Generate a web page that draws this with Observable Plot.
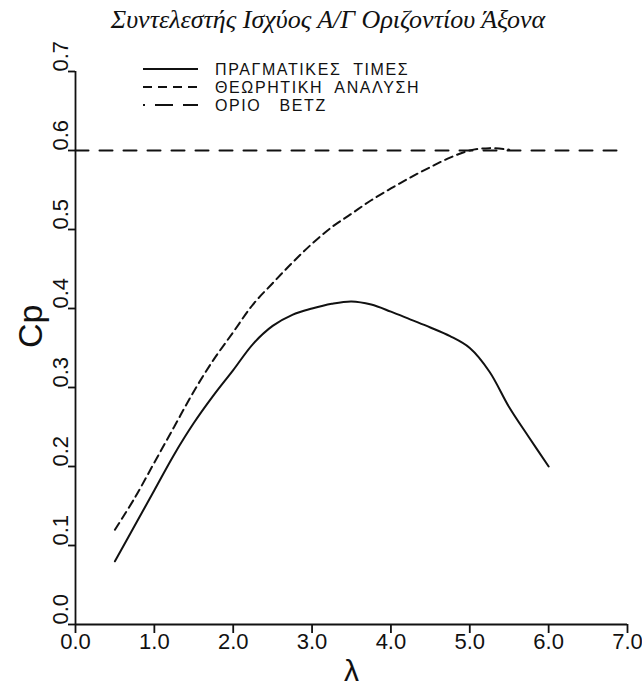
<!DOCTYPE html>
<html><head><meta charset="utf-8">
<script src="https://cdn.jsdelivr.net/npm/d3@7"></script>
<script src="https://cdn.jsdelivr.net/npm/@observablehq/plot@0.6"></script>
<style>
body{margin:0;background:#fff;}
#wrap{position:relative;width:642px;height:688px;overflow:hidden;}
#title{height:40px;line-height:40px;text-align:center;padding-left:14px;font-family:"Liberation Serif",serif;font-style:italic;font-size:26px;color:#111;}
#legend{position:absolute;left:0;top:0;}
#legend text{white-space:pre;}
#chart svg [aria-label*="tick"] path, #chart svg .tick line{stroke-width:1.8px;}
</style></head><body>
<div id="wrap"><div id="title"></div><div id="chart"></div><svg id="legend" width="642" height="130"></svg></div>
<script>
const titleText = "Συντελεστής Ισχύος Α/Γ Οριζοντίου Άξονα";
const xLabel = "λ";
const yLabel = "Cp";
const seriesNames = ["ΠΡΑΓΜΑΤΙΚΕΣ  ΤΙΜΕΣ", "ΘΕΩΡΗΤΙΚΗ  ΑΝΑΛΥΣΗ", "ΟΡΙΟ   ΒΕΤΖ"];

const lambdaReal = [0.5, 0.75, 1.0, 1.25, 1.5, 1.75, 2.0, 2.25, 2.5, 2.75, 3.0, 3.25, 3.5, 3.75, 4.0, 4.25, 4.5, 4.75, 5.0, 5.25, 5.5, 5.75, 6.0];
const cpReal     = [0.08, 0.125, 0.17, 0.215, 0.255, 0.29, 0.322, 0.355, 0.378, 0.392, 0.400, 0.406, 0.409, 0.405, 0.396, 0.386, 0.376, 0.365, 0.35, 0.32, 0.275, 0.237, 0.20];

const lambdaTheory = [0.5, 0.75, 1.0, 1.25, 1.5, 1.75, 2.0, 2.25, 2.5, 2.75, 3.0, 3.25, 3.5, 3.75, 4.0, 4.25, 4.5, 4.75, 5.0, 5.25, 5.5];
const cpTheory     = [0.12, 0.16, 0.205, 0.25, 0.295, 0.335, 0.37, 0.405, 0.432, 0.458, 0.482, 0.503, 0.52, 0.537, 0.552, 0.566, 0.579, 0.591, 0.600, 0.603, 0.601];

const lambdaBetz = [0, 7];
const cpBetz = [0.6, 0.6];

const xTicks = [0, 1, 2, 3, 4, 5, 6, 7];
const yTicks = [0, 0.1, 0.2, 0.3, 0.4, 0.5, 0.6, 0.7];

const real = lambdaReal.map((l, i) => ({l, cp: cpReal[i]}));
const theory = lambdaTheory.map((l, i) => ({l, cp: cpTheory[i]}));
const betz = lambdaBetz.map((l, i) => ({l, cp: cpBetz[i]}));
const fmt = d => d.toFixed(1);

document.getElementById("title").textContent = titleText;

const chart = Plot.plot({
  width: 642, height: 648,
  marginTop: 31, marginBottom: 64, marginLeft: 75, marginRight: 15,
  x: {domain: [0, 7], ticks: xTicks, tickSize: 9, tickFormat: () => "", label: null},
  y: {domain: [0, 0.7], ticks: yTicks, tickSize: 7, tickFormat: () => "", label: null},
  style: {fontFamily: "'Liberation Sans', Arial, sans-serif", color: "#111", background: "white"},
  marks: [
    Plot.ruleY([0], {stroke: "#111", strokeWidth: 1.8}),
    Plot.ruleX([0], {stroke: "#111", strokeWidth: 1.8}),
    Plot.text(xTicks, {x: d => d, frameAnchor: "bottom", dy: 24, text: fmt, fontSize: 22, fill: "#111"}),
    Plot.text(yTicks, {y: d => d, frameAnchor: "left", dx: -15, rotate: -90, text: fmt, fontSize: 22, fill: "#111"}),
    Plot.text([yLabel], {frameAnchor: "left", dx: -44, rotate: -90, text: d => d, fontSize: 34, fill: "#111"}),
    Plot.text([xLabel], {frameAnchor: "bottom", dy: 56, text: d => d, fontSize: 30, fill: "#111"}),
    Plot.line(betz, {x: "l", y: "cp", stroke: "#111", strokeWidth: 2, strokeDasharray: "13,11"}),
    Plot.line(theory, {x: "l", y: "cp", stroke: "#111", strokeWidth: 2, strokeDasharray: "8,5", curve: "catmull-rom"}),
    Plot.line(real, {x: "l", y: "cp", stroke: "#111", strokeWidth: 2, curve: "catmull-rom"})
  ]
});
document.getElementById("chart").appendChild(chart);

// legend
const dashes = [null, "9,6", "2,10,18,10,16"];
const leg = d3.select("#legend");
const rows = leg.selectAll("g").data(seriesNames).join("g")
  .attr("transform", (d, i) => `translate(0,${69 + i * 18})`);
rows.append("line").attr("x1", 143).attr("x2", 198).attr("y1", 0).attr("y2", 0)
  .attr("stroke", "#111").attr("stroke-width", 2)
  .attr("stroke-dasharray", (d, i) => dashes[i]);
rows.append("text").attr("x", 215).attr("y", 0).attr("dy", "0.36em")
  .attr("font-family", "'Liberation Sans', Arial, sans-serif").attr("font-size", 16)
  .attr("letter-spacing", 1.6)
  .attr("fill", "#111").text(d => d);
</script>
</body></html>
